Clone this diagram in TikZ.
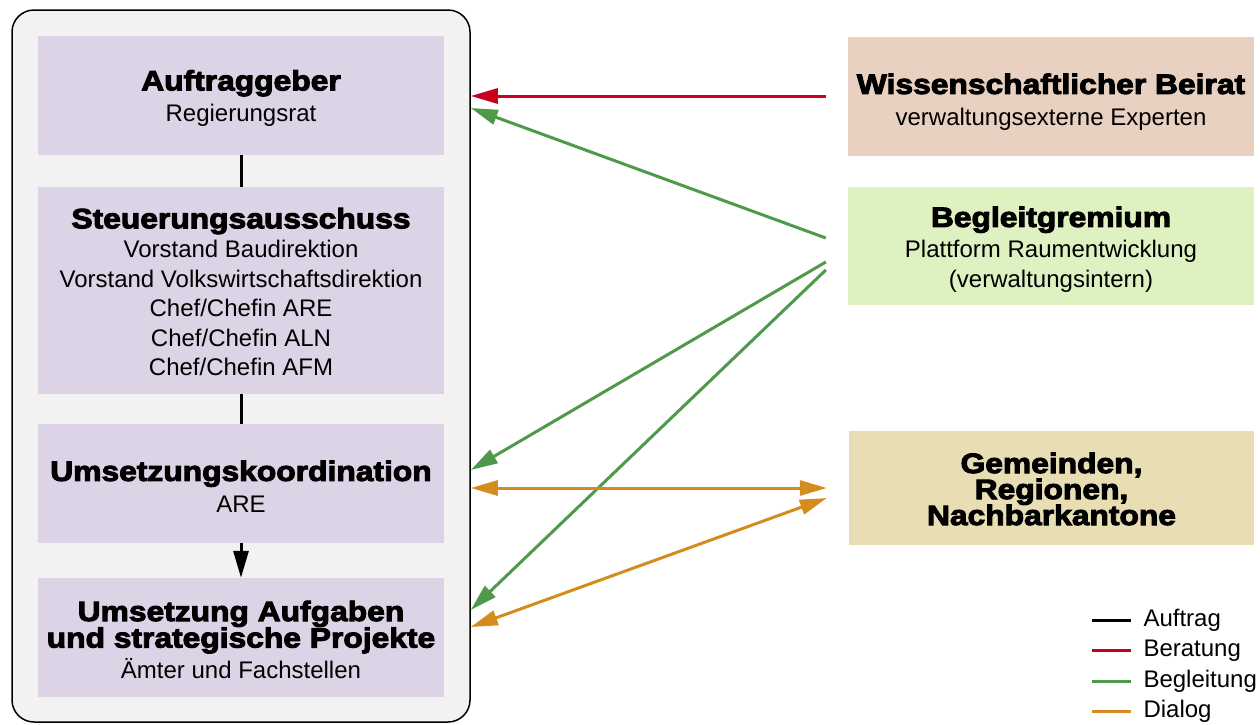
\documentclass[tikz,border=0pt]{standalone}
\usepackage{fontspec}
\setmainfont{Liberation Sans}
\newfontfamily\heavy{Liberation Sans Bold}[FakeBold=3.5,FakeStretch=1.135]
\usetikzlibrary{arrows.meta,calc}
\definecolor{lav}{HTML}{DCD3E6}
\definecolor{beirat}{HTML}{E9D1C1}
\definecolor{begleit}{HTML}{DEF1C0}
\definecolor{gem}{HTML}{E9DDB4}
\definecolor{cred}{HTML}{C8001E}
\definecolor{cgreen}{HTML}{4F9A4A}
\definecolor{corange}{HTML}{D48C1E}
\definecolor{cont}{HTML}{F2F2F2}
\newcommand{\T}[1]{{\heavy\fontsize{28}{28}\selectfont #1}}
\tikzset{
  box/.style={rectangle, inner sep=0pt},
  lbl/.style={inner sep=0pt, align=center, font=\fontsize{24}{29.5}\selectfont},
  tip/.style={-{Triangle[length=27pt,width=15pt]}},
  dtip/.style={{Triangle[length=27pt,width=15pt]}-{Triangle[length=27pt,width=15pt]}},
  auftrag/.style={draw=black, line width=3pt},
  beratung/.style={draw=cred, line width=3pt},
  begleitung/.style={draw=cgreen, line width=3pt},
  dialog/.style={draw=corange, line width=3pt},
  legtext/.style={anchor=west, inner sep=0pt, font=\fontsize{24}{24}\selectfont}
}
\begin{document}
\begin{tikzpicture}[x=1pt,y=-1pt]
\useasboundingbox (0,0) rectangle (1260,724);
% container
\node[draw=black, line width=1.5pt, fill=cont, rounded corners=22pt, minimum width=458pt, minimum height=712pt, inner sep=0pt] (outer) at (241,366) {};
% left boxes
\node[box, fill=lav, minimum width=406pt, minimum height=119pt] (b1) at (241,95.5) {};
\node[box, fill=lav, minimum width=406pt, minimum height=207pt] (b2) at (241,290.5) {};
\node[box, fill=lav, minimum width=406pt, minimum height=119pt] (b3) at (241,483.5) {};
\node[box, fill=lav, minimum width=406pt, minimum height=119pt] (b4) at (241,637.5) {};
\node[lbl] (b1t) at ($(b1.center)+(0,3)$) {\T{Auftraggeber}\\[2pt] Regierungsrat};
\node[lbl] (b2t) at ($(b2.center)+(0,1.5)$) {\T{Steuerungsausschuss}\\ Vorstand Baudirektion\\ Vorstand Volkswirtschaftsdirektion\\ Chef/Chefin ARE\\ Chef/Chefin ALN\\ Chef/Chefin AFM};
\node[lbl] (b3t) at ($(b3.center)+(0,3)$) {\T{Umsetzungskoordination}\\[2pt] ARE};
\node[lbl] (b4t) at ($(b4.center)+(0,2)$) {\T{Umsetzung Aufgaben}\\[-3pt] \T{und strategische Projekte}\\[1pt] Ämter und Fachstellen};
% right boxes
\node[box, fill=beirat, minimum width=406pt, minimum height=119pt] (wb) at (1051,96.5) {};
\node[box, fill=begleit, minimum width=406pt, minimum height=118pt] (bg) at (1051,246) {};
\node[box, fill=gem, minimum width=405pt, minimum height=114pt] (gm) at (1051.5,488) {};
\node[lbl] (wbt) at ($(wb.center)+(0,5.5)$) {\T{Wissenschaftlicher Beirat}\\[2pt] verwaltungsexterne Experten};
\node[lbl] (bgt) at ($(bg.center)+(0,3.5)$) {\T{Begleitgremium}\\[1.5pt] Plattform Raumentwicklung\\ (verwaltungsintern)};
\node[lbl] (gmt) at ($(gm.center)+(0,1)$) {\T{Gemeinden,}\\[-3.5pt] \T{Regionen,}\\[-3.5pt] \T{Nachbarkantone}};
% vertical connectors
\draw[auftrag] (b1.south) -- (b2.north);
\draw[auftrag] (b2.south) -- (b3.north);
\draw[auftrag, tip] (b3.south) -- (b4.north);
% coordinates on the container
\coordinate (e1) at (outer.east |- 0,96);
\coordinate (e2) at (outer.east |- 0,108);
\coordinate (e3) at (outer.east |- 0,470);
\coordinate (e4) at (outer.east |- 0,488);
\coordinate (e5) at (outer.east |- 0,610);
\coordinate (e6) at (outer.east |- 0,627);
% start points left of the right boxes
\coordinate (s1) at ($(wb.west)+(-22,-0.5)$);
\coordinate (s2) at ($(bg.west)+(-22,-8)$);
\coordinate (s3) at ($(bg.west)+(-22,16)$);
\coordinate (s4) at ($(bg.west)+(-22,24)$);
\coordinate (s5) at ($(gm.west)+(-22,0)$);
\coordinate (s6) at ($(gm.west)+(-22,10)$);
% arrows
\draw[beratung, tip] (s1) -- (e1);
\draw[begleitung, tip] (s2) -- (e2);
\draw[begleitung, tip] (s3) -- (e3);
\draw[begleitung, tip] (s4) -- (e5);
\draw[dialog, dtip] (e4) -- (s5);
\draw[dialog, dtip] (e6) -- (s6);
% legend
\coordinate (l1) at (1092,620);
\coordinate (l2) at (1092,650.5);
\coordinate (l3) at (1092,681);
\coordinate (l4) at (1092,711);
\draw[auftrag] (l1) -- ++(39,0) node[legtext, xshift=11pt, text=black] (t1) {Auftrag};
\draw[beratung] (l2) -- ++(39,0) node[legtext, xshift=11pt, text=black] (t2) {Beratung};
\draw[begleitung] (l3) -- ++(39,0) node[legtext, xshift=11pt, text=black] (t3) {Begleitung};
\draw[dialog] (l4) -- ++(39,0) node[legtext, xshift=11pt, text=black] (t4) {Dialog};
\end{tikzpicture}
\end{document}
